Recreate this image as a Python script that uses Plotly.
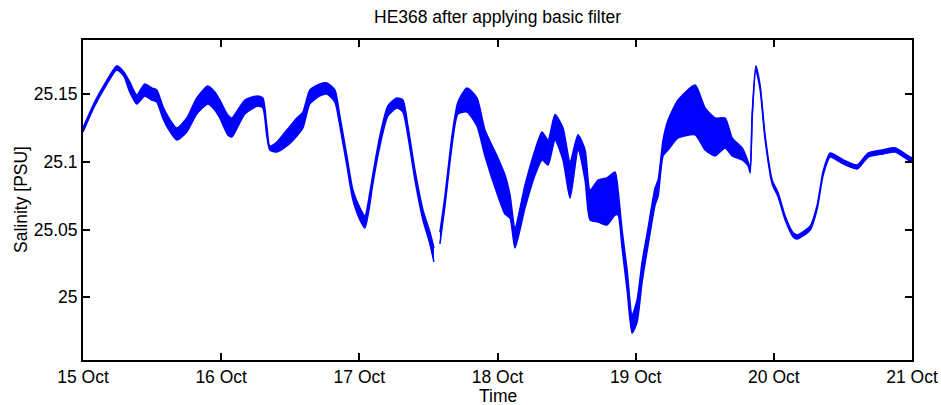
import plotly.graph_objects as go
import pandas as pd

# hours after 15 Oct 00:00
hours = [0, 2.03, 3.77, 5.86, 7.07, 8.12, 9.33, 10.72, 11.94, 12.81, 13.85, 14.72, 16.29, 18.03,
         19.76, 21.68, 22.89, 23.76, 25.15, 25.85, 28.11, 30.37, 31.24, 31.93, 32.45, 33.67,
         35.41, 37.15, 38.19, 39.41, 41.14, 42.36, 43.75, 44.62, 45.84, 46.88, 48.10, 48.97,
         49.84, 50.18, 51.57, 52.96, 54.53, 55.57, 56.44, 57.66, 59.05, 60.26, 60.96,
         62.00, 62.87, 64.09, 65.13, 66.70, 68.43, 69.82, 72.08, 73.30, 74.17, 75.04, 76.78,
         78.52, 79.73, 80.78, 81.99, 83.38, 84.60, 85.99, 87.21, 88.08, 89.47, 91.03, 92.42,
         92.94, 93.64, 94.51, 95.38, 96.25, 97.12, 98.16, 99.37, 99.90, 100.76, 101.63,
         103.37, 106.33, 108.06, 109.80, 111.54, 112.76, 114.50, 115.54, 115.89, 116.24,
         116.88, 117.63, 118.49, 119.71, 120.75, 121.97, 123.36, 124.06, 126.32, 127.53,
         128.58, 129.79, 132.05, 134.49, 136.40, 139.01, 141.09, 143.35, 144.0]

# upper envelope of the filtered salinity scatter [PSU]
sal_hi = [25.1251, 25.1443, 25.1576, 25.1709, 25.1665, 25.1590, 25.1494, 25.1575, 25.1546, 25.1531,
          25.1413, 25.1339, 25.1250, 25.1324, 25.1472, 25.1561, 25.1516, 25.1457, 25.1346, 25.1324,
          25.1457, 25.1487, 25.1472, 25.1265, 25.1118, 25.1147, 25.1235, 25.1324, 25.1368, 25.1531,
          25.1575, 25.1583, 25.1531, 25.1339, 25.1044, 25.0792, 25.0660, 25.0600, 25.0778, 25.0866,
          25.1191, 25.1413, 25.1472, 25.1457, 25.1265, 25.0940, 25.0645, 25.0482, 25.0364,
          25.0482, 25.0748, 25.1191, 25.1442, 25.1546, 25.1472, 25.1235, 25.1029, 25.0903, 25.0756,
          25.0512, 25.0829, 25.1088, 25.1221, 25.1162, 25.1350, 25.1250, 25.0999, 25.1200, 25.1088,
          25.0792, 25.0866, 25.0881, 25.0926, 25.0792, 25.0497, 25.0202, 24.9869, 24.9980, 25.0261,
          25.0512, 25.0807, 25.0866, 25.1162, 25.1309, 25.1457, 25.1568, 25.1398, 25.1324, 25.1324,
          25.1177, 25.1103, 25.1000, 25.0948, 25.1354, 25.1709, 25.1561, 25.1192, 25.0867, 25.0771,
          25.0601, 25.0476, 25.0461, 25.0527, 25.0682, 25.0934, 25.1066, 25.1015, 25.0978, 25.1066,
          25.1089, 25.1103, 25.1044, 25.1030]

# lower envelope of the filtered salinity scatter [PSU]
sal_lo = [25.1221, 25.1413, 25.1546, 25.1679, 25.1635, 25.1516, 25.1428, 25.1487, 25.1457, 25.1442,
          25.1324, 25.1250, 25.1162, 25.1221, 25.1354, 25.1428, 25.1383, 25.1324, 25.1199, 25.1184,
          25.1354, 25.1413, 25.1398, 25.1191, 25.1088, 25.1073, 25.1117, 25.1191, 25.1250, 25.1428,
          25.1487, 25.1501, 25.1442, 25.1265, 25.0970, 25.0719, 25.0571, 25.0512, 25.0689, 25.0792,
          25.1117, 25.1339, 25.1398, 25.1368, 25.1191, 25.0866, 25.0571, 25.0394, 25.0261,
          25.0394, 25.0674, 25.1117, 25.1354, 25.1368, 25.1265, 25.1044, 25.0748, 25.0615, 25.0586,
          25.0364, 25.0660, 25.0903, 25.1014, 25.0977, 25.1162, 25.1014, 25.0733, 25.1088, 25.0866,
          25.0571, 25.0556, 25.0534, 25.0608, 25.0608, 25.0364, 25.0054, 24.9736, 24.9818, 25.0113,
          25.0386, 25.0682, 25.0748, 25.1044, 25.1088, 25.1177, 25.1199, 25.1088, 25.1044, 25.1103,
          25.1044, 25.1014, 25.0970, 25.0918, 25.1324, 25.1679, 25.1531, 25.1162, 25.0837, 25.0741,
          25.0571, 25.0446, 25.0431, 25.0497, 25.0652, 25.0904, 25.1036, 25.0985, 25.0948, 25.1036,
          25.1059, 25.1073, 25.1014, 25.1000]

# the record has a short data gap after this hour
gap_hour = 61.5

y_ticks = [25.0, 25.05, 25.1, 25.15]
y_tick_labels = ["25", "25.05", "25.1", "25.15"]
x_tick_dates = ["2011-10-15", "2011-10-16", "2011-10-17", "2011-10-18",
                "2011-10-19", "2011-10-20", "2011-10-21"]
x_tick_labels = ["15 Oct", "16 Oct", "17 Oct", "18 Oct", "19 Oct", "20 Oct", "21 Oct"]

base = pd.Timestamp("2011-10-15")
df = pd.DataFrame({"h": hours, "hi": sal_hi, "lo": sal_lo})
df["t"] = base + pd.to_timedelta(df["h"], unit="h")

BLUE = "#0000ff"
fig = go.Figure()
for seg in (df[df.h < gap_hour], df[df.h >= gap_hour]):
    fig.add_trace(go.Scatter(x=seg.t, y=seg.lo, mode="lines",
                             line=dict(color=BLUE, width=1.5, shape="spline", smoothing=0.6),
                             showlegend=False, hoverinfo="skip"))
    fig.add_trace(go.Scatter(x=seg.t, y=seg.hi, mode="lines", fill="tonexty",
                             fillcolor=BLUE,
                             line=dict(color=BLUE, width=1.5, shape="spline", smoothing=0.6),
                             showlegend=False))

font = "Liberation Sans, Arial, Helvetica, sans-serif"
FS = 17.5
fig.update_layout(
    width=941, height=405,
    margin=dict(l=83, r=29, t=40, b=45),
    paper_bgcolor="white", plot_bgcolor="white",
    font=dict(family=font, size=FS, color="black"),
    xaxis=dict(range=["2011-10-15", "2011-10-21"], tickvals=x_tick_dates,
               ticktext=x_tick_labels, ticks="inside", ticklen=7, tickwidth=2,
               tickcolor="black", showline=True, linecolor="black", linewidth=2,
               mirror="ticks", showgrid=False, zeroline=False, automargin=False,
               ticklabeloverflow="allow", tickfont=dict(size=FS)),
    yaxis=dict(range=[24.9537, 25.19], tickvals=y_ticks, ticktext=y_tick_labels,
               ticks="inside", ticklen=7, tickwidth=2, tickcolor="black",
               showline=True, linecolor="black", linewidth=2, mirror="ticks",
               showgrid=False, zeroline=False, automargin=False,
               ticklabeloverflow="allow", tickfont=dict(size=FS)),
    annotations=[
        dict(text="HE368 after applying basic filter", x=0.5, y=1, xref="paper",
             yref="paper", yanchor="bottom", yshift=11, showarrow=False,
             font=dict(size=FS)),
        dict(text="Time", x=0.5, y=0, xref="paper", yref="paper", yanchor="top",
             yshift=-24, showarrow=False, font=dict(size=FS)),
        dict(text="Salinity [PSU]", x=0, y=0.5, xref="paper", yref="paper",
             xanchor="center", yanchor="middle", xshift=-62, textangle=-90,
             showarrow=False, font=dict(size=FS)),
    ],
)
fig.write_html("out.html", config={"displayModeBar": False},
               post_script="document.body.style.margin='0';document.body.style.overflow='hidden';")
